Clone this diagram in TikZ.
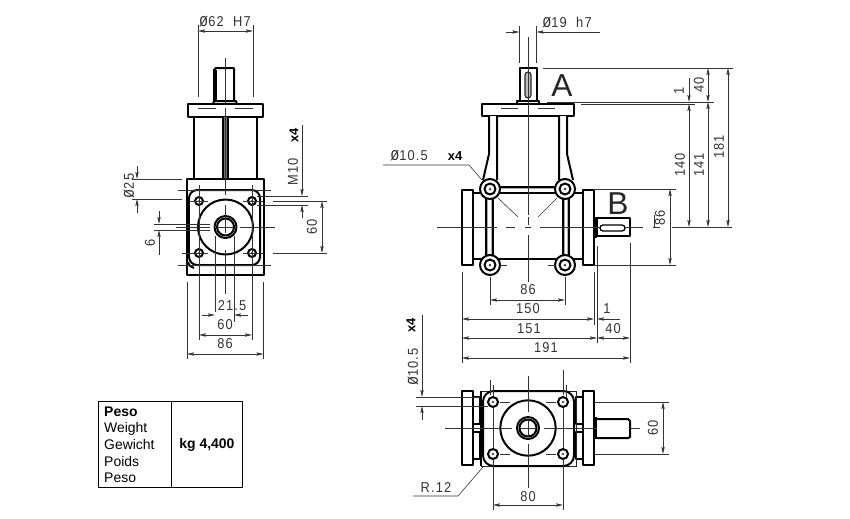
\documentclass[tikz,border=0pt]{standalone}
\usepackage{fontspec}
\usepackage{graphicx}
\setmainfont{Liberation Sans}
\newfontfamily\dimfont[LetterSpace=8, FakeStretch=.9]{Liberation Sans}
\newcommand{\diasign}{\scalebox{1.15}[1.3]{ø}}
\usetikzlibrary{arrows.meta}
\tikzset{
  body/.style={line width=1.7pt, line join=round},
  thinbody/.style={line width=.7pt, black!85},
  hair/.style={line width=.5pt, black!80},
  dim/.style={line width=.5pt, black!80, >={Stealth[length=6pt, width=2.8pt, inset=1pt]}},
  dimtext/.style={inner sep=0pt, font=\dimfont\fontsize{12.2}{12}\selectfont, black!80},
  boldtext/.style={inner sep=0pt, font=\bfseries\fontsize{11}{11}\selectfont},
  bigletter/.style={inner sep=0pt, font=\fontsize{27}{27}\selectfont, black!85},
  tabletext/.style={inner sep=0pt, anchor=west, font=\fontsize{11.9}{12}\selectfont},
}

\begin{document}
\begin{tikzpicture} [x=0.03cm, y=-0.03cm]
\path[use as bounding box] (0,0) rectangle (850,518);

% side view
\draw[body] (214,101) -- (214,70) -- (216,68) -- (234,68) -- (234,101);
\draw[body] (216,70) -- (216,101);
\draw[body] (213,104) -- (214,101) -- (236,101) -- (237,104);
\draw[body] (188,104) rectangle (263,117);
\draw[body] (194,117) -- (194,179) (257,117) -- (257,179);
\fill[black!55] (223,117) rectangle (228,180);
\draw[body] (223,117) -- (223,180) (228,117) -- (228,180);
\draw[white, line width=.6pt] (225.5,120) -- (225.5,140);
\draw[body] (187,179) rectangle (264,275);
\draw[body, rounded corners=7pt] (189,190) rectangle (260,265);
\draw[body] (188,262) .. controls (189,266) and (191,267) .. (194,268);
\draw[body] (225.5,227) circle[radius=27.5];
\draw[body] (225.5,227) circle[radius=11];
\draw[body] (225.5,227) circle[radius=8.5];
\draw[body] (199,201) circle[radius=4] (252,201) circle[radius=4] (199,253) circle[radius=4] (252,253) circle[radius=4];
\fill[black!70] (199,201) circle[radius=1.2] (252,201) circle[radius=1.2] (199,253) circle[radius=1.2] (252,253) circle[radius=1.2];

\draw[hair] (198,108) -- (216,108) (235,108) -- (253,108);
\draw[hair] (225.5,58) -- (225.5,103) (225.5,108) -- (225.5,195) (225.5,205) -- (225.5,233) (225.5,250) -- (225.5,294);
\draw[hair] (176,227) -- (210,227) (218,227) -- (233,227) (240,227) -- (275,227);
\draw[hair] (178,190) -- (271,190) (178,265) -- (271,265);
\draw[hair] (182,253) -- (208,253) (243,253) -- (263,253);
\draw[hair] (190,201) -- (208,201) (243,201) -- (263,201);
\draw[hair] (198,25) -- (198,97) (253,25) -- (253,97);
\draw[hair] (132,179) -- (182,179) (132,199) -- (182,199);
\draw[hair] (257,196) -- (308,196) (257,205) -- (308,205);
\draw[hair] (273,201) -- (327,201) (273,253) -- (327,253);
\draw[hair] (154,224) -- (210,224) (154,230) -- (210,230);
\draw[hair] (199,185) -- (199,340) (252,185) -- (252,340);
\draw[hair] (215,236) -- (215,312) (234,236) -- (234,322);
\draw[hair] (187,282) -- (187,359) (263.5,282) -- (263.5,359);

\draw[dim, <->] (198,31) -- (253,31);
\node[dimtext] (t62) at (225,22) {\diasign 62 \ H7};
\draw[dim, ->] (137,166) -- (137,179);
\draw[dim, ->] (137,213) -- (137,199);
\node[dimtext, rotate=90] (t25) at (129,186) {\diasign 25};
\draw[dim, ->] (302,125) -- (302,196);
\draw[dim, ->] (302,218) -- (302,205);
\node[dimtext, rotate=90] (tm10) at (293,172) {M10};
\node[boldtext, rotate=90] (tx4a) at (294,135) {x4};
\draw[dim, <->] (322,201) -- (322,253);
\node[dimtext, rotate=90] (t60a) at (312,227) {60};
\draw[dim, ->] (159,211) -- (159,224);
\draw[dim, ->] (159,255) -- (159,230);
\node[dimtext, rotate=90] (t6) at (150,243) {6};
\draw[dim, ->] (202,315) -- (215,315);
\draw[dim, ->] (248,315) -- (234,315);
\node[dimtext] (t215) at (232,306) {21.5};
\draw[dim, <->] (199,335) -- (252,335);
\node[dimtext] (t60b) at (225,325) {60};
\draw[dim, <->] (187,354) -- (263.5,354);
\node[dimtext] (t86a) at (225,344) {86};

% front view
\draw[body] (519.5,101) -- (519.5,68) -- (537,68) -- (537,101);
\draw[thinbody, line width=1pt, fill=black!25] (525,75) arc[start angle=180, end angle=360, radius=3] -- (531,95) arc[start angle=0, end angle=180, radius=3] -- cycle;
\draw[body] (517,104) -- (517,101) -- (539,101) -- (539,104);
\draw[body] (482,104) rectangle (574,116);
\fill[black!35] (489,116) rectangle (497,154) (559,116) rectangle (567,154);
\fill[white] (490,116) rectangle (496,180) (560,116) rectangle (566,180);
\draw[body] (489,116) -- (489,154) -- (483,180) (497,116) -- (497,180);
\draw[body] (567,116) -- (567,154) -- (573,180) (559,116) -- (559,180);
\draw[body] (462,190) rectangle (473,265);
\draw[body] (583,190) rectangle (594,265);
\draw[body] (473,193) -- (481,193) (575,193) -- (583,193);
\draw[body] (473,259) -- (583,259);
\fill[black!35] (497,187) rectangle (559,193);
\fill[white] (497,188.5) rectangle (559,191.5);
\draw[body] (497,187) -- (559,187) (497,193) -- (559,193);
\fill[black!35] (486,197) rectangle (493,257) (563,197) rectangle (569,257);
\fill[white] (488,197) rectangle (491,257) (565,197) rectangle (567,257);
\draw[body] (486,197) -- (486,257) (493,197) -- (493,257) (563,197) -- (563,257) (569,197) -- (569,257);
\draw[body, fill=white] (490,189) circle[radius=10] (565,189) circle[radius=10] (490,265) circle[radius=10] (565,265) circle[radius=10];
\draw[body] (490,189) circle[radius=5.5] (565,189) circle[radius=5.5] (490,265) circle[radius=5.5] (565,265) circle[radius=5.5];
\fill[black!70] (490,189) circle[radius=1.5] (565,189) circle[radius=1.5] (490,265) circle[radius=1.5] (565,265) circle[radius=1.5];
\draw[body] (596,217) -- (596,238);
\draw[body] (597,218) rectangle (630,236);
\draw[line width=1.1pt, fill=white, rounded corners=2.5pt] (600,225) rectangle (625,231);

\draw[hair] (501,108) -- (518,108) (538,108) -- (555,108);
\draw[hair] (528,37) -- (528,215) (528,217) -- (528,225) (528,235) -- (528,282);
\draw[hair] (437,227) -- (497,227) (506,227) -- (515,227) (525,227) -- (531,227) (540,227) -- (600,227) (625,227) -- (643,227) (653,227) -- (660,227);
\draw[hair] (654,215) -- (654,227);
\draw[hair] (498,198) -- (518,217) (557,198) -- (538,217);
\draw[hair] (519.5,26) -- (519.5,63) (536.5,26) -- (536.5,63);
\draw[hair] (543,68) -- (733,68) (547,102) -- (714,102) (581,104) -- (695,104);
\draw[hair] (672,227) -- (732,227) (593,189) -- (676,189) (594,265) -- (676,265);
\draw[hair] (490,277) -- (490,305) (565,277) -- (565,305);
\draw[hair] (462,272) -- (462,363) (594,272) -- (594,325) (597,246) -- (597,343) (630,243) -- (630,363);
\draw[hair] (500,265) -- (507,265) (548,265) -- (555,265);

\draw[dim, ->] (506,32) -- (519.5,32);
\draw[dim, ->] (600,32) -- (536.5,32);
\node[dimtext] (t19) at (567,22) {\diasign 19 \ h7};
\draw[hair] (383,165) -- (469,165) -- (482,180);
\node[dimtext] (t105a) at (409,156) {\diasign 10.5};
\node[boldtext] (tx4b) at (455,156) {x4};
\node[bigletter] (la) at (562,86) {A};
\node[bigletter] (lb) at (618,204) {B};
\draw[dim, ->] (689,78) -- (689,102);
\draw[dim, <->] (689,104) -- (689,227);
\draw[dim, <->] (708,68) -- (708,102);
\draw[dim, <->] (708,102) -- (708,227);
\draw[dim, <->] (728,68) -- (728,227);
\draw[dim, <->] (670,189) -- (670,265);
\node[dimtext, rotate=90] (t1a) at (679,91) {1};
\node[dimtext, rotate=90] (t40a) at (699,85) {40};
\node[dimtext, rotate=90] (t140) at (680,165) {140};
\node[dimtext, rotate=90] (t141) at (699,165) {141};
\node[dimtext, rotate=90] (t181) at (719,147) {181};
\node[dimtext, rotate=90] (t86b) at (660,218) {86};
\draw[dim, <->] (490,300) -- (565,300);
\node[dimtext] (t86c) at (528,290) {86};
\draw[dim, <->] (462,319) -- (594,319);
\node[dimtext] (t150) at (528,309) {150};
\draw[dim, <->] (462,338) -- (597,338);
\node[dimtext] (t151) at (529,329) {151};
\draw[dim, <->] (462,358) -- (630,358);
\node[dimtext] (t191) at (546,348) {191};
\draw[dim, ->] (620,319) -- (597,319);
\node[dimtext] (t1b) at (607,309) {1};
\draw[dim, <->] (597,338) -- (630,338);
\node[dimtext] (t40b) at (613,329) {40};

% top view
\draw[body] (462,391) rectangle (473,465);
\draw[body] (583,391) rectangle (594,465);
\draw[body] (473,397) -- (480,397) -- (480,424) -- (473,424);
\draw[body] (473,432) -- (480,432) -- (480,459) -- (473,459);
\draw[body] (583,397) -- (576,397) -- (576,424) -- (583,424);
\draw[body] (583,432) -- (576,432) -- (576,459) -- (583,459);
\draw[thinbody] (481,391) rectangle (576,466);
\draw[body, rounded corners=9pt] (483,391) rectangle (574,466);
\draw[body] (481,391) -- (481,466) (501,391) -- (555,391) (501,466) -- (555,466);
\draw[body] (528,428) circle[radius=27.7];
\draw[body] (528,428) circle[radius=11];
\draw[body] (528,428) circle[radius=8.5];
\draw[body] (493,402) circle[radius=5] (563,402) circle[radius=5] (493,454) circle[radius=5] (563,454) circle[radius=5];
\fill[black!70] (493,402) circle[radius=1.3] (563,402) circle[radius=1.3] (493,454) circle[radius=1.3] (563,454) circle[radius=1.3];
\draw[body] (596,417) -- (596,439);
\draw[body] (597,419) -- (628,419) -- (630,421) -- (630,437) -- (628,438) -- (597,438);

\draw[hair] (445,428) -- (512,428) (520,428) -- (536,428) (544,428) -- (597,428) (630,428) -- (640,428);
\draw[hair] (528,376) -- (528,412) (528,420) -- (528,436) (528,444) -- (528,488);
\draw[hair] (490,380) -- (490,395) (493,385) -- (493,397) (493,407) -- (493,448) (493,459) -- (493,510);
\draw[hair] (566,385) -- (566,397) (563,370) -- (563,395) (563,408) -- (563,448) (563,459) -- (563,510);
\draw[hair] (416,397) -- (480,397) (416,406) -- (488,406);
\draw[hair] (500,402) -- (510,402) (546,402) -- (556,402) (500,454) -- (510,454) (546,454) -- (556,454);
\draw[hair] (595,402) -- (669,402) (595,454) -- (669,454);
\draw[dim, ->] (422,315) -- (422,397);
\draw[dim, ->] (422,420) -- (422,406);
\node[dimtext, rotate=90] (t105b) at (413,367) {\diasign 10.5};
\node[boldtext, rotate=90] (tx4c) at (411,325) {x4};
\draw[dim, <->] (663,402) -- (663,454);
\node[dimtext, rotate=90] (t60c) at (653,428) {60};
\draw[dim, <->] (493,505) -- (563,505);
\node[dimtext] (t80) at (528,497) {80};
\draw[hair] (413,496) -- (458,496) -- (483,467);
\node[dimtext] (tr12) at (436,487) {R.12};

% weight table
\draw[line width=.8pt] (98,401) rectangle (242,487);
\draw[line width=.8pt] (171,401) -- (171,487);
\node[tabletext, font=\bfseries\fontsize{11.9}{12}\selectfont] (peso) at (104,412) {Peso};
\node[tabletext] (weight) at (104,429) {Weight};
\node[tabletext] (gewicht) at (104,445) {Gewicht};
\node[tabletext] (poids) at (104,462) {Poids};
\node[tabletext] (peso2) at (104,478) {Peso};
\node[inner sep=0pt, font=\bfseries\fontsize{11.9}{12}\selectfont] (kg) at (207,445) {kg 4,400};
\end{tikzpicture}
\end{document}
